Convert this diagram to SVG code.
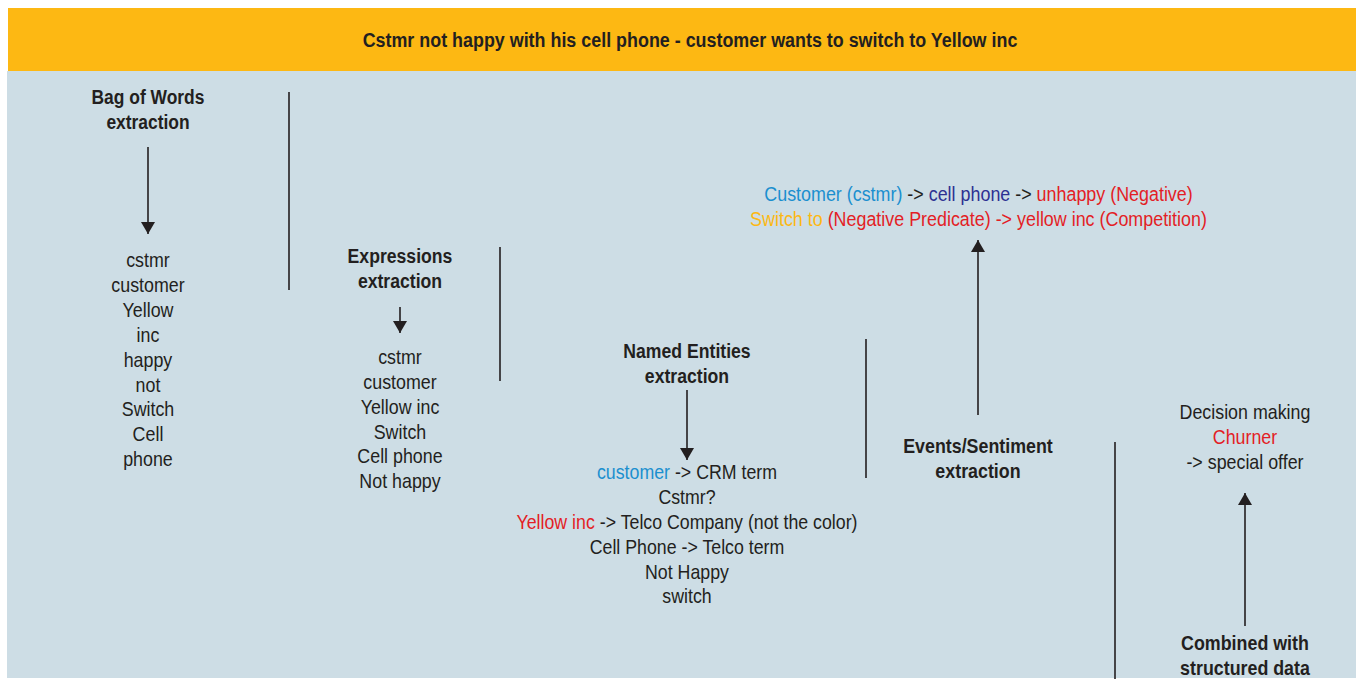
<svg xmlns="http://www.w3.org/2000/svg" width="1356" height="679" viewBox="0 0 1356 679">
<defs>
<style>
text{font-family:"Liberation Sans Narrow","Arial Narrow","Liberation Sans",sans-serif;font-size:21px;fill:#231F20;text-anchor:middle}
.b{font-weight:bold}
.h{font-size:20.5px;font-weight:bold}
.ln{stroke:#231F20;stroke-width:1.6;fill:none}
.bl{fill:#1B8FCF}
.db{fill:#2E3192}
.rd{fill:#E31E26}
.yl{fill:#FDB813}
</style>
<marker id="ah2" viewBox="0 0 10 10" refX="10" refY="5" markerWidth="12" markerHeight="14" markerUnits="userSpaceOnUse" orient="auto" preserveAspectRatio="none">
<path d="M0,0 L10,5 L0,10 Z" fill="#231F20"/>
</marker>
</defs>
<rect x="0" y="0" width="1356" height="679" fill="#FFFFFF"/>
<rect x="7" y="71" width="1349" height="607" fill="#CDDDE5"/>
<g id="header">
<rect x="8" y="8" width="1348" height="63" fill="#FDB813"/>
<g transform="translate(690 0) scale(0.873 1) translate(-690 0)">
<text class="h" x="690" y="47">Cstmr not happy with his cell phone - customer wants to switch to Yellow inc</text>
</g>
</g>
<g id="connectors">
<line class="ln" x1="148" y1="147" x2="148" y2="234" marker-end="url(#ah2)"/>
<line class="ln" x1="400" y1="307" x2="400" y2="333" marker-end="url(#ah2)"/>
<line class="ln" x1="687" y1="390" x2="687" y2="460" marker-end="url(#ah2)"/>
<line class="ln" x1="978" y1="415" x2="978" y2="240" marker-end="url(#ah2)"/>
<line class="ln" x1="1245" y1="626" x2="1245" y2="493" marker-end="url(#ah2)"/>
<line class="ln" x1="289" y1="92" x2="289" y2="290"/>
<line class="ln" x1="500" y1="247" x2="500" y2="381"/>
<line class="ln" x1="866" y1="339" x2="866" y2="478"/>
<line class="ln" x1="1115" y1="442" x2="1115" y2="679"/>
</g>
<g id="bag-of-words" transform="translate(148 0) scale(0.83 1) translate(-148 0)">
<text class="b" x="148" y="104">Bag of Words</text>
<text class="b" x="148" y="129">extraction</text>
</g>
<g id="bag-list" transform="translate(148 0) scale(0.85 1) translate(-148 0)">
<text x="148" y="267">cstmr</text>
<text x="148" y="292">customer</text>
<text x="148" y="317">Yellow</text>
<text x="148" y="342">inc</text>
<text x="148" y="367">happy</text>
<text x="148" y="392">not</text>
<text x="148" y="416">Switch</text>
<text x="148" y="441">Cell</text>
<text x="148" y="466">phone</text>
</g>
<g id="expressions" transform="translate(400 0) scale(0.84 1) translate(-400 0)">
<text class="b" x="400" y="263">Expressions</text>
<text class="b" x="400" y="288">extraction</text>
</g>
<g id="expressions-list" transform="translate(400 0) scale(0.85 1) translate(-400 0)">
<text x="400" y="364">cstmr</text>
<text x="400" y="389">customer</text>
<text x="400" y="414">Yellow inc</text>
<text x="400" y="439">Switch</text>
<text x="400" y="463">Cell phone</text>
<text x="400" y="488">Not happy</text>
</g>
<g id="named-entities" transform="translate(687 0) scale(0.84 1) translate(-687 0)">
<text class="b" x="687" y="358">Named Entities</text>
<text class="b" x="687" y="383">extraction</text>
</g>
<g id="named-entities-list" transform="translate(687 0) scale(0.846 1) translate(-687 0)">
<text x="687" y="479"><tspan class="bl">customer</tspan> -&gt; CRM term</text>
<text x="687" y="504">Cstmr?</text>
<text x="687" y="529"><tspan class="rd">Yellow inc</tspan> -&gt; Telco Company (not the color)</text>
<text x="687" y="554">Cell Phone -&gt; Telco term</text>
<text x="687" y="579">Not Happy</text>
<text x="687" y="603">switch</text>
</g>
<g id="events-sentiment" transform="translate(978 0) scale(0.85 1) translate(-978 0)">
<text class="b" x="978" y="453">Events/Sentiment</text>
<text class="b" x="978" y="478">extraction</text>
</g>
<g id="sentiment-result" transform="translate(978.5 0) scale(0.852 1) translate(-978.5 0)">
<text x="978.5" y="201"><tspan class="bl">Customer (cstmr)</tspan> -&gt; <tspan class="db">cell phone</tspan> -&gt; <tspan class="rd">unhappy (Negative)</tspan></text>
<text x="978.5" y="226"><tspan class="yl">Switch to</tspan> <tspan class="rd">(Negative Predicate) -&gt; yellow inc (Competition)</tspan></text>
</g>
<g id="decision-making" transform="translate(1245 0) scale(0.85 1) translate(-1245 0)">
<text x="1245" y="419">Decision making</text>
<text class="rd" x="1245" y="444">Churner</text>
<text x="1245" y="469">-&gt; special offer</text>
</g>
<g id="combined" transform="translate(1245 0) scale(0.85 1) translate(-1245 0)">
<text class="b" x="1245" y="650">Combined with</text>
<text class="b" x="1245" y="675">structured data</text>
</g>
</svg>
